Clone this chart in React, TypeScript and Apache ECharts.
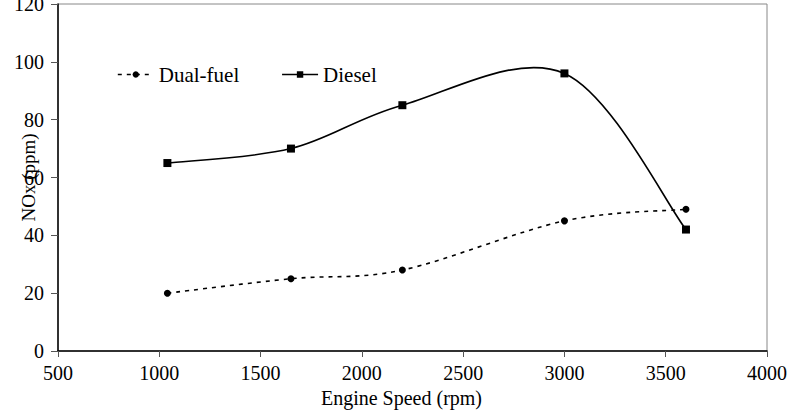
import React, { useEffect, useRef } from "react";
import * as echarts from "echarts";

const engineSpeed = [1040, 1650, 2200, 3000, 3600];
const dualFuel = [20, 25, 28, 45, 49];
const diesel = [65, 70, 85, 96, 42];
const xTicks = { min: 500, max: 4000, interval: 500 };
const yTicks = { min: 0, max: 120, interval: 20 };

const FONT = "Liberation Serif, Times New Roman, serif";

// Catmull-Rom style smoothing (like spreadsheet smoothed lines), computed in pixel space
function smoothPath(pts: number[][]): string {
  if (!pts.length) return "";
  let d = `M${pts[0][0]},${pts[0][1]}`;
  for (let i = 0; i < pts.length - 1; i++) {
    const p0 = pts[i - 1] || pts[i];
    const p1 = pts[i];
    const p2 = pts[i + 1];
    const p3 = pts[i + 2] || pts[i + 1];
    const c1x = p1[0] + (p2[0] - p0[0]) / 6;
    const c1y = p1[1] + (p2[1] - p0[1]) / 6;
    const c2x = p2[0] - (p3[0] - p1[0]) / 6;
    const c2y = p2[1] - (p3[1] - p1[1]) / 6;
    d += ` C${c1x},${c1y} ${c2x},${c2y} ${p2[0]},${p2[1]}`;
  }
  return d;
}

function curveSeries(name: string, ys: number[], dash: number[] | null) {
  return {
    name,
    type: "custom",
    coordinateSystem: "cartesian2d",
    data: engineSpeed.map((x, i) => [x, ys[i]]),
    encode: { x: 0, y: 1 },
    silent: true,
    z: 1,
    renderItem: (params: any, api: any) => {
      if (params.dataIndex !== 0) return null;
      const pts = engineSpeed.map((x, i) => api.coord([x, ys[i]]));
      return {
        type: "path",
        shape: { pathData: smoothPath(pts) },
        style: {
          stroke: "#000",
          fill: "none",
          lineWidth: 1.6,
          lineDash: dash || undefined,
        },
      };
    },
  };
}

export default function App() {
  const ref = useRef<HTMLDivElement>(null);
  useEffect(() => {
    if (!ref.current) return;
    const chart = echarts.init(ref.current, null, { renderer: "svg" });
    chart.setOption({
      animation: false,
      backgroundColor: "#fff",
      textStyle: { fontFamily: FONT },
      grid: {
        left: 58,
        right: 24,
        top: 4,
        bottom: 61,
        show: true,
        borderColor: "#888",
        borderWidth: 1,
        containLabel: false,
        outerBoundsMode: "none",
      },
      legend: {
        left: 112,
        top: 59,
        itemWidth: 36,
        itemHeight: 8,
        itemGap: 42,
        textStyle: { fontFamily: FONT, fontSize: 21, color: "#000" },
        data: [
          { name: "Dual-fuel", lineStyle: { width: 1.6, type: [4, 5], color: "#000", opacity: 1 } },
          { name: "Diesel", lineStyle: { width: 1.6, type: "solid", color: "#000", opacity: 1 } },
        ],
      },
      xAxis: {
        type: "value",
        min: xTicks.min,
        max: xTicks.max,
        interval: xTicks.interval,
        name: "Engine Speed (rpm)",
        nameLocation: "middle",
        nameGap: 37,
        nameMoveOverlap: false,
        nameTextStyle: { fontFamily: FONT, fontSize: 20, color: "#000", padding: [0, 22, 0, 0] },
        axisLine: { show: true, lineStyle: { color: "#000", width: 1.5 } },
        axisTick: { show: true, inside: false, length: 6, lineStyle: { color: "#555" } },
        axisLabel: { fontFamily: FONT, fontSize: 20, color: "#000", margin: 12, formatter: (v: number) => String(v) },
        splitLine: { show: false },
      },
      yAxis: {
        type: "value",
        min: yTicks.min,
        max: yTicks.max,
        interval: yTicks.interval,
        name: "NOx (ppm)",
        nameLocation: "middle",
        nameGap: 20,
        nameMoveOverlap: false,
        nameTextStyle: { fontFamily: FONT, fontSize: 19, color: "#000" },
        axisLine: { show: true, lineStyle: { color: "#000", width: 1.5 } },
        axisTick: { show: true, inside: false, length: 7, lineStyle: { color: "#555" } },
        axisLabel: { fontFamily: FONT, fontSize: 20, color: "#000", margin: 14, formatter: (v: number) => String(v) },
        splitLine: { show: false },
      },
      series: [
        curveSeries("Dual-fuel curve", dualFuel, [4, 5]),
        curveSeries("Diesel curve", diesel, null),
        {
          name: "Dual-fuel",
          type: "line",
          data: engineSpeed.map((x, i) => [x, dualFuel[i]]),
          symbol: "circle",
          symbolSize: 7,
          z: 3,
          itemStyle: { color: "#000" },
          lineStyle: { color: "#000", width: 0, opacity: 0 },
        },
        {
          name: "Diesel",
          type: "line",
          data: engineSpeed.map((x, i) => [x, diesel[i]]),
          symbol: "rect",
          symbolSize: 8,
          z: 3,
          itemStyle: { color: "#000" },
          lineStyle: { color: "#000", width: 0, opacity: 0 },
        },
      ],
    });
    return () => chart.dispose();
  }, []);
  return <div ref={ref} style={{ width: 791, height: 412, position: "absolute", left: 0, top: 0 }} />;
}
